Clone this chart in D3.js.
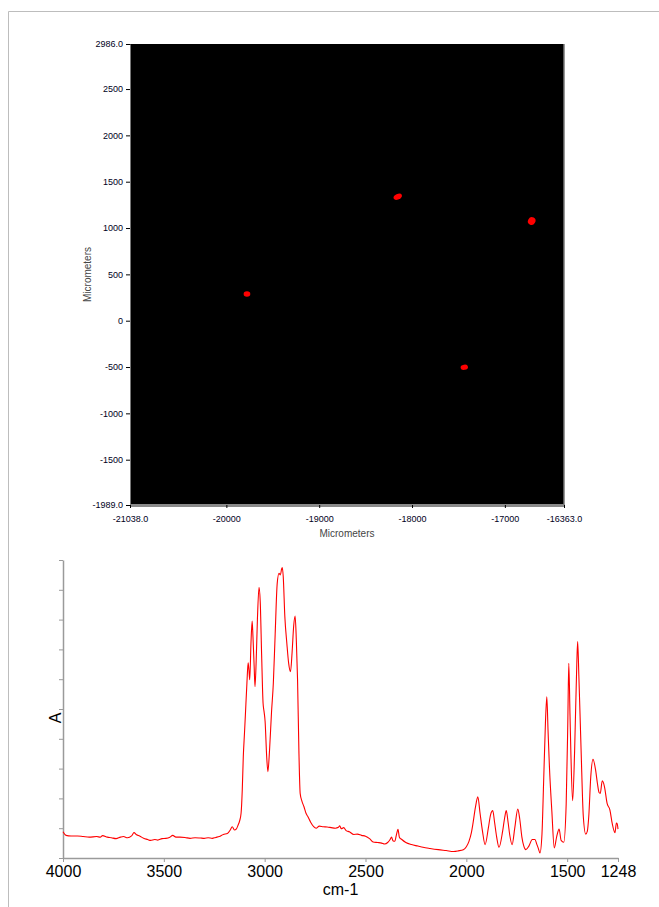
<!DOCTYPE html>
<html>
<head>
<meta charset="utf-8">
<script src="https://cdn.jsdelivr.net/npm/d3@7/dist/d3.min.js"></script>
<style>
  body { margin: 0; background: #fff; }
  svg { display: block; font-family: Arial, "Liberation Sans", sans-serif; }
</style>
</head>
<body>
<div id="chart"></div>
<script>
(function(d3) {

// ---- map data (micrometers) ----
var mapXTicks = [-21038, -20000, -19000, -18000, -17000, -16363];
var mapYTicks = [2986, 2500, 2000, 1500, 1000, 500, 0, -500, -1000, -1500, -1989];
var spotX = [-18154, -16711, -19778, -17437];
var spotY = [1338, 1076, 288, -503];
var spotW = [95, 80, 72, 80];   // spot size, micrometers
var spotH = [60, 86, 58, 56];
var spotTilt = [-25, 30, 0, -10];

// ---- spectrum data ----
var waveTicks = [4000, 3500, 3000, 2500, 2000, 1500, 1248];
var wavenumber = [
  4000, 3985, 3960, 3928, 3900, 3870, 3833, 3815, 3804, 3780, 3760, 3737, 3715, 3700, 3680, 3660,
  3648, 3635, 3620, 3600, 3580, 3566, 3545, 3530, 3509, 3490, 3470, 3456, 3440, 3420, 3395, 3370,
  3345, 3319, 3300, 3280, 3260, 3243, 3225, 3205, 3185, 3170, 3161, 3150, 3140, 3132, 3124, 3117,
  3111, 3106, 3100, 3096, 3088, 3082, 3078, 3074, 3068, 3062, 3058, 3052, 3048, 3042, 3036, 3028,
  3022, 3015, 3008, 3003, 2998, 2990, 2984, 2976, 2966, 2957, 2948, 2938, 2929, 2922, 2916, 2913,
  2908, 2900, 2890, 2881, 2872, 2864, 2856, 2849, 2843, 2837, 2830, 2824, 2815, 2805, 2795, 2786,
  2772, 2757, 2745, 2729, 2710, 2690, 2670, 2650, 2634, 2628, 2620, 2608, 2596, 2580, 2558, 2540,
  2520, 2500, 2480, 2462, 2440, 2420, 2405, 2390, 2378, 2371, 2364, 2355, 2346, 2339, 2332, 2320,
  2300, 2272, 2240, 2215, 2180, 2139, 2100, 2063, 2040, 2015, 2000, 1987, 1975, 1968, 1955, 1943,
  1932, 1920, 1907, 1891, 1880, 1869, 1860, 1850, 1838, 1820, 1810, 1802, 1793, 1785, 1773, 1760,
  1745, 1735, 1725, 1715, 1705, 1690, 1673, 1660, 1650, 1644, 1635, 1625, 1617, 1608, 1601, 1595,
  1588, 1576, 1564, 1552, 1540, 1530, 1517, 1505, 1497, 1492, 1486, 1482, 1473, 1463, 1452, 1448,
  1442, 1431, 1420, 1408, 1400, 1393, 1383, 1372, 1359, 1350, 1342, 1336, 1326, 1315, 1302, 1288,
  1277, 1263, 1256, 1252, 1248
];
var absorbance = [
  0.88, 0.76, 0.74, 0.74, 0.72, 0.70, 0.72, 0.70, 0.75, 0.70, 0.68, 0.65, 0.70, 0.72, 0.68, 0.74,
  0.85, 0.78, 0.74, 0.66, 0.62, 0.59, 0.62, 0.60, 0.65, 0.66, 0.70, 0.76, 0.70, 0.70, 0.69, 0.66,
  0.68, 0.67, 0.66, 0.68, 0.66, 0.69, 0.72, 0.79, 0.82, 0.95, 1.05, 0.94, 0.98, 1.10, 1.25, 1.50,
  2.30, 3.40, 4.20, 4.75, 5.87, 6.55, 6.30, 5.98, 7.20, 7.95, 7.42, 6.40, 5.75, 6.64, 8.00, 9.08,
  8.60, 6.80, 5.20, 4.91, 4.60, 3.40, 2.90, 3.60, 4.90, 5.87, 7.50, 9.20, 9.55, 9.50, 9.70, 9.75,
  9.45, 8.10, 7.20, 6.53, 6.25, 6.90, 7.80, 8.12, 7.30, 6.00, 3.50, 2.17, 1.90, 1.72, 1.50, 1.39,
  1.20, 1.05, 1.00, 1.07, 1.05, 1.04, 1.02, 1.00, 1.03, 1.08, 0.98, 1.02, 0.92, 0.88, 0.79, 0.80,
  0.76, 0.73, 0.65, 0.54, 0.52, 0.50, 0.47, 0.52, 0.62, 0.70, 0.58, 0.56, 0.80, 0.96, 0.70, 0.62,
  0.52, 0.45, 0.40, 0.36, 0.32, 0.28, 0.25, 0.22, 0.24, 0.28, 0.38, 0.56, 0.85, 1.12, 1.70, 2.05,
  1.50, 0.90, 0.45, 1.00, 1.45, 1.59, 1.20, 0.72, 0.36, 0.90, 1.35, 1.59, 1.20, 0.78, 0.45, 1.00,
  1.64, 1.30, 0.72, 0.40, 0.28, 0.40, 0.62, 0.62, 0.45, 0.34, 0.17, 0.80, 2.50, 4.50, 5.41, 4.30,
  3.06, 1.57, 0.34, 0.72, 0.97, 0.59, 0.53, 1.80, 4.50, 6.53, 4.80, 3.62, 1.92, 3.62, 6.60, 7.26,
  6.10, 3.62, 1.39, 0.80, 0.90, 1.39, 2.73, 3.31, 2.95, 2.50, 2.20, 2.17, 2.59, 2.39, 1.83, 1.61,
  1.17, 0.85, 1.17, 1.15, 0.97
];
var absTicks = d3.range(0, 11);

var width = 659;
var height = 907;

var svg = d3.select('#chart')
  .append('svg')
  .attr('width', width)
  .attr('height', height);

// outer frame (left + top)
svg.append('path')
  .attr('d', 'M8.5,907V11.5H659')
  .attr('fill', 'none')
  .attr('stroke', '#bdbdbd')
  .attr('stroke-width', 1);

// ================= map =================
var mx = d3.scaleLinear().domain([-21038, -16363]).range([130, 564]);
var my = d3.scaleLinear().domain([-1989, 2986]).range([505, 44]);

svg.append('rect')
  .attr('x', mx(-21038))
  .attr('y', my(2986))
  .attr('width', mx(-16363) - mx(-21038))
  .attr('height', my(-1989) - my(2986))
  .attr('fill', '#000');

var mapFmt = function(d) {
  var s = (d === -21038 || d === -16363 || d === 2986 || d === -1989) ? d.toFixed(1) : String(d);
  return s.replace('\u2212', '-');
};

var gmy = svg.append('g')
  .attr('transform', 'translate(' + mx(-21038) + ',0)')
  .call(d3.axisLeft(my).tickValues(mapYTicks).tickSize(4).tickSizeOuter(0).tickPadding(3).tickFormat(mapFmt));
gmy.select('.domain').attr('stroke', '#777').attr('stroke-width', 1);

var gmx = svg.append('g')
  .attr('transform', 'translate(0,' + my(-1989) + ')')
  .call(d3.axisBottom(mx).tickValues(mapXTicks).tickSize(3).tickSizeOuter(0).tickPadding(8).tickFormat(mapFmt));
gmx.select('.domain').attr('stroke', '#8a8a8a').attr('stroke-width', 3);

[gmx, gmy].forEach(function(g) {
  g.selectAll('.tick line').attr('stroke', '#000');
  g.selectAll('.tick text')
    .attr('fill', '#000022')
    .style('font-size', '9px')
    .style('font-family', 'Arial, "Liberation Sans", sans-serif');
});

// right edge of map
svg.append('line')
  .attr('x1', mx(-16363)).attr('x2', mx(-16363))
  .attr('y1', my(2986)).attr('y2', my(-1989))
  .attr('stroke', '#777')
  .attr('stroke-width', 1.5);

// red spots
var kx = (mx(-16363) - mx(-21038)) / 4675;
var ky = (my(-1989) - my(2986)) / 4975;
svg.selectAll('.spot')
  .data(spotX)
  .enter()
  .append('ellipse')
  .attr('class', 'spot')
  .attr('transform', function(d, i) {
    return 'translate(' + mx(d) + ',' + my(spotY[i]) + ') rotate(' + spotTilt[i] + ')';
  })
  .attr('rx', function(d, i) { return spotW[i] * kx / 2; })
  .attr('ry', function(d, i) { return spotH[i] * ky / 2; })
  .attr('fill', '#ff0000');

svg.append('text')
  .attr('x', (mx(-21038) + mx(-16363)) / 2)
  .attr('y', 537)
  .attr('text-anchor', 'middle')
  .style('font-size', '10px')
  .attr('fill', '#444')
  .text('Micrometers');

svg.append('text')
  .attr('transform', 'translate(91,' + ((my(2986) + my(-1989)) / 2) + ') rotate(-90)')
  .attr('text-anchor', 'middle')
  .style('font-size', '10px')
  .attr('fill', '#444')
  .text('Micrometers');

// ================= spectrum =================
var sx = d3.scaleLinear().domain([4000, 1248]).range([63, 618]);
var sy = d3.scaleLinear().domain([0, 10]).range([858, 560]);

var gsy = svg.append('g')
  .attr('transform', 'translate(' + sx(4000) + ',0)')
  .call(d3.axisLeft(sy).tickValues(absTicks).tickSize(4).tickSizeOuter(0).tickFormat(''));

var gsx = svg.append('g')
  .attr('transform', 'translate(0,' + sy(0) + ')')
  .call(d3.axisBottom(sx).tickValues(waveTicks).tickSize(4).tickSizeOuter(0).tickPadding(4)
    .tickFormat(function(d) { return String(d); }));

[gsx, gsy].forEach(function(g) {
  g.select('.domain').attr('stroke', '#9a9a9a').attr('stroke-width', 1.5);
  g.selectAll('.tick line').attr('stroke', '#9a9a9a');
});
gsx.selectAll('.tick text')
  .attr('fill', '#000')
  .style('font-size', '16px')
  .style('font-family', 'Arial, "Liberation Sans", sans-serif');

var points = wavenumber.map(function(w, i) { return [w, absorbance[i]]; });
var line = d3.line()
  .x(function(d) { return sx(d[0]); })
  .y(function(d) { return sy(d[1]); })
  .curve(d3.curveMonotoneX);

svg.append('path')
  .datum(points)
  .attr('d', line)
  .attr('fill', 'none')
  .attr('stroke', '#ff0000')
  .attr('stroke-width', 1.1);

svg.append('text')
  .attr('x', (sx(4000) + sx(1248)) / 2)
  .attr('y', 895)
  .attr('text-anchor', 'middle')
  .style('font-size', '16px')
  .attr('fill', '#000')
  .text('cm-1');

svg.append('text')
  .attr('transform', 'translate(61,718) rotate(-90)')
  .attr('text-anchor', 'middle')
  .style('font-size', '16px')
  .attr('fill', '#000')
  .text('A');

})(window.d3);
</script>
</body>
</html>
